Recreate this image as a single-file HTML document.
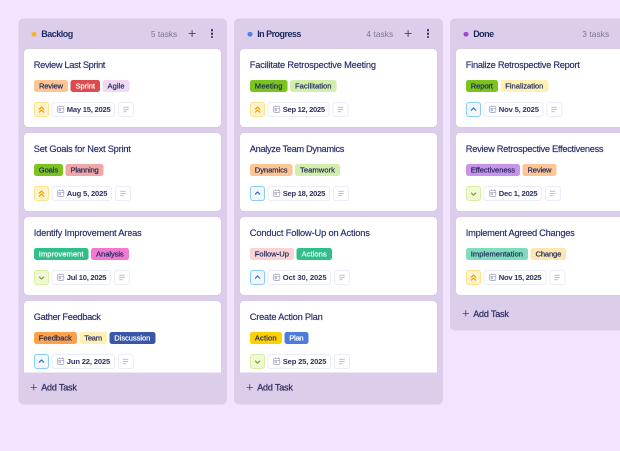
<!DOCTYPE html>
<html><head><meta charset="utf-8"><title>Board</title>
<style>
*{box-sizing:border-box;margin:0;padding:0}
html,body{width:620px;height:451px;overflow:hidden;background:#f2e3fe;font-family:"Liberation Sans",sans-serif;color:#1e2a5e}
.col{position:absolute;top:18.5px;width:208.4px}
.bg{position:absolute;top:0;right:0;bottom:0;background:#dccdeb;border-radius:5px}
.hd{position:absolute;left:0;top:0;height:30px;width:100%}
.dot{position:absolute;left:12.9px;top:13.4px;width:4.8px;height:4.8px;border-radius:50%}
.ttl{position:absolute;left:22.4px;top:10px;font-size:9px;font-weight:bold;line-height:11px;white-space:nowrap}
.cnt{position:absolute;right:50px;top:10.3px;font-size:8.3px;line-height:11px;color:#7b7695;white-space:nowrap}
.plus{position:absolute;left:169.5px;top:11.4px;width:7.2px;height:7.2px}
.plus svg{display:block;width:7.2px;height:7.2px}
.dots{position:absolute;left:192.1px;top:10.7px;width:3px;height:11px}
.dots i{display:block;width:2.3px;height:2.3px;border-radius:50%;background:#2a2d5c;margin-bottom:1.05px}
.list{position:absolute;left:4.2px;top:29.5px;width:199px;padding:1px 0 0 1px;overflow:hidden}
.card{position:relative;width:197.2px;height:78px;background:#fff;border-radius:4px;margin-bottom:6px;box-shadow:0 0 0.7px 0 rgba(120,135,225,0.4)}
.card h3{position:absolute;left:9.8px;top:10.4px;font-size:9.3px;font-weight:normal;line-height:11px;white-space:nowrap;color:#232c66;-webkit-text-stroke:0.15px #232c66}
.tags{position:absolute;left:9.8px;top:30.8px;display:flex;gap:2.5px}
.tag{height:12px;border-radius:2.5px;padding:0;text-align:center;flex:none;overflow:hidden;font-size:7.6px;line-height:12px;white-space:nowrap;-webkit-text-stroke:0.2px}
.meta{position:absolute;left:9.8px;top:52.8px;display:flex;gap:2.6px}
.pr{flex:none;width:15.1px;height:15px;border-radius:3px;border:1px solid;position:relative}
.pr svg{position:absolute;left:0;top:0;width:13px;height:13px}
.p1{background:#fdf5c9;border-color:#fde18d}
.p2{background:#f0f7ff;border-color:#8accf8}
.p3{background:#f2f8d4;border-color:#d6f0a2}
.date{height:15px;border:1px solid #ebecf9;border-radius:3px;background:#fff;font-size:7.6px;line-height:13px;padding:0 0 0 14.3px;flex:none;position:relative;white-space:nowrap;font-weight:bold;color:#2c345f}
.date svg{position:absolute;left:4.6px;top:2.4px;width:7.5px;height:8px}
.ds{flex:none;margin-left:0.3px;width:16px;height:15px;border:1px solid #ebecf9;border-radius:3px;background:#fff;position:relative}
.ds svg{position:absolute;left:3.7px;top:3.5px;width:6px;height:6px}
.add{position:absolute;left:10px;font-size:9px;line-height:11px;white-space:nowrap;color:#2c2f5f;padding-left:12.4px;-webkit-text-stroke:0.22px #2c2f5f}
.add span{position:relative;top:0.5px}
.add svg{position:absolute;left:1.5px;top:2.3px;width:6.6px;height:6.6px}
#w{position:absolute;left:0;top:0;width:1240px;height:902px;transform:scale(0.5);transform-origin:0 0;will-change:transform}
#z{zoom:2;position:absolute;left:0;top:0;width:620px;height:451px}
#clip{position:absolute;left:0;top:0;width:620px;height:451px;overflow:hidden;background:#f2e3fe}
</style></head><body>
<div id="clip"><div id="w"><div id="z">
<div class="col" style="left:18.8px;height:386.2px">
<div class="bg" style="left:-0.4px"></div>
<div class="hd"><span class="dot" style="background:#fbb01f"></span><span class="ttl"><span style="letter-spacing:-0.502px">Backlog</span></span><span class="cnt"><span style="letter-spacing:0.000px">5 tasks</span></span><span class="plus"><svg viewBox="0 0 8 8"><path d="M4 0.2v7.6M0.2 4h7.6" stroke="#2c2f5f" stroke-width="0.9" fill="none"/></svg></span><span class="dots"><i></i><i></i><i></i></span></div>
<div class="list" style="height:324.3px">
<div class="card"><h3><span style="letter-spacing:-0.348px">Review Last Sprint</span></h3><div class="tags"><span class="tag" style="width:34.2px;background:#fdc594;color:#1e2a5e"><span style="letter-spacing:-0.168px">Review</span></span><span class="tag" style="width:29.5px;background:#dd4b4e;color:#fff"><span style="letter-spacing:-0.057px">Sprint</span></span><span class="tag" style="width:27px;background:#f1d9f3;color:#1e2a5e"><span style="letter-spacing:0.022px">Agile</span></span></div><div class="meta"><div class="pr p1"><svg viewBox="0 0 13 13"><path d="M4.3 6.2 L6.5 4 L8.7 6.2 M4.3 9.2 L6.5 7 L8.7 9.2" fill="none" stroke="#f59a0b" stroke-width="1.2" stroke-linecap="round" stroke-linejoin="round"/></svg></div><div class="date" style="width:63.7px"><svg viewBox="0 0 15 16"><rect x="1.3" y="2.8" width="12.4" height="11.8" rx="2" fill="none" stroke="#8689b2" stroke-width="1.1"/><path d="M1.3 6.7h12.4M4.7 0.8v2.8M10.3 0.8v2.8" stroke="#8689b2" stroke-width="1.1" fill="none"/><rect x="3.9" y="8.7" width="3.1" height="3.1" fill="none" stroke="#8689b2" stroke-width="0.9"/></svg><span style="letter-spacing:-0.225px">May 15, 2025</span></div><div class="ds"><svg viewBox="0 0 12 12"><path d="M0.5 1.5h11M0.5 6h11M0.5 10.5h7" stroke="#a3a7cb" stroke-width="1.5" fill="none"/></svg></div></div></div>
<div class="card"><h3><span style="letter-spacing:-0.243px">Set Goals for Next Sprint</span></h3><div class="tags"><span class="tag" style="width:29.25px;background:#7ac41d;color:#1e2a5e"><span style="letter-spacing:-0.119px">Goals</span></span><span class="tag" style="width:38px;background:#f1a7a7;color:#1e2a5e"><span style="letter-spacing:-0.195px">Planning</span></span></div><div class="meta"><div class="pr p1"><svg viewBox="0 0 13 13"><path d="M4.3 6.2 L6.5 4 L8.7 6.2 M4.3 9.2 L6.5 7 L8.7 9.2" fill="none" stroke="#f59a0b" stroke-width="1.2" stroke-linecap="round" stroke-linejoin="round"/></svg></div><div class="date" style="width:60.7px"><svg viewBox="0 0 15 16"><rect x="1.3" y="2.8" width="12.4" height="11.8" rx="2" fill="none" stroke="#8689b2" stroke-width="1.1"/><path d="M1.3 6.7h12.4M4.7 0.8v2.8M10.3 0.8v2.8" stroke="#8689b2" stroke-width="1.1" fill="none"/><rect x="3.9" y="8.7" width="3.1" height="3.1" fill="none" stroke="#8689b2" stroke-width="0.9"/></svg><span style="letter-spacing:-0.156px">Aug 5, 2025</span></div><div class="ds"><svg viewBox="0 0 12 12"><path d="M0.5 1.5h11M0.5 6h11M0.5 10.5h7" stroke="#a3a7cb" stroke-width="1.5" fill="none"/></svg></div></div></div>
<div class="card"><h3><span style="letter-spacing:-0.209px">Identify Improvement Areas</span></h3><div class="tags"><span class="tag" style="width:54.75px;background:#2ebf8b;color:#fff"><span style="letter-spacing:0.038px">Improvement</span></span><span class="tag" style="width:37.75px;background:#f279d2;color:#1e2a5e"><span style="letter-spacing:-0.066px">Analysis</span></span></div><div class="meta"><div class="pr p3"><svg viewBox="0 0 13 13"><path d="M4.4 6 L6.5 8.1 L8.6 6" fill="none" stroke="#64a51a" stroke-width="1.15" stroke-linecap="round" stroke-linejoin="round"/></svg></div><div class="date" style="width:59.7px"><svg viewBox="0 0 15 16"><rect x="1.3" y="2.8" width="12.4" height="11.8" rx="2" fill="none" stroke="#8689b2" stroke-width="1.1"/><path d="M1.3 6.7h12.4M4.7 0.8v2.8M10.3 0.8v2.8" stroke="#8689b2" stroke-width="1.1" fill="none"/><rect x="3.9" y="8.7" width="3.1" height="3.1" fill="none" stroke="#8689b2" stroke-width="0.9"/></svg><span style="letter-spacing:-0.263px">Jul 10, 2025</span></div><div class="ds"><svg viewBox="0 0 12 12"><path d="M0.5 1.5h11M0.5 6h11M0.5 10.5h7" stroke="#a3a7cb" stroke-width="1.5" fill="none"/></svg></div></div></div>
<div class="card"><h3><span style="letter-spacing:-0.340px">Gather Feedback</span></h3><div class="tags"><span class="tag" style="width:43px;background:#fea14a;color:#1e2a5e"><span style="letter-spacing:-0.045px">Feedback</span></span><span class="tag" style="width:27.5px;background:#fff1b5;color:#1e2a5e"><span style="letter-spacing:-0.270px">Team</span></span><span class="tag" style="width:46px;background:#3a56a6;color:#fff"><span style="letter-spacing:-0.072px">Discussion</span></span></div><div class="meta"><div class="pr p2"><svg viewBox="0 0 13 13"><path d="M4.3 7.2 L6.5 5 L8.7 7.2" fill="none" stroke="#3a62cc" stroke-width="1.15" stroke-linecap="round" stroke-linejoin="round"/></svg></div><div class="date" style="width:63.45px"><svg viewBox="0 0 15 16"><rect x="1.3" y="2.8" width="12.4" height="11.8" rx="2" fill="none" stroke="#8689b2" stroke-width="1.1"/><path d="M1.3 6.7h12.4M4.7 0.8v2.8M10.3 0.8v2.8" stroke="#8689b2" stroke-width="1.1" fill="none"/><rect x="3.9" y="8.7" width="3.1" height="3.1" fill="none" stroke="#8689b2" stroke-width="0.9"/></svg><span style="letter-spacing:-0.160px">Jun 22, 2025</span></div><div class="ds"><svg viewBox="0 0 12 12"><path d="M0.5 1.5h11M0.5 6h11M0.5 10.5h7" stroke="#a3a7cb" stroke-width="1.5" fill="none"/></svg></div></div></div>
</div>
<div class="add" style="top:363px"><svg viewBox="0 0 8 8"><path d="M4 0.2v7.6M0.2 4h7.6" stroke="#2c2f5f" stroke-width="0.85" fill="none"/></svg><span style="letter-spacing:-0.170px">Add Task</span></div>
</div>
<div class="col" style="left:234.8px;height:386.2px">
<div class="bg" style="left:-0.9px"></div>
<div class="hd"><span class="dot" style="background:#4382e6"></span><span class="ttl"><span style="letter-spacing:-0.530px">In Progress</span></span><span class="cnt"><span style="letter-spacing:0.072px">4 tasks</span></span><span class="plus"><svg viewBox="0 0 8 8"><path d="M4 0.2v7.6M0.2 4h7.6" stroke="#2c2f5f" stroke-width="0.9" fill="none"/></svg></span><span class="dots"><i></i><i></i><i></i></span></div>
<div class="list" style="height:324.3px">
<div class="card"><h3><span style="letter-spacing:-0.196px">Facilitate Retrospective Meeting</span></h3><div class="tags"><span class="tag" style="width:37.75px;background:#7ac41d;color:#1e2a5e"><span style="letter-spacing:0.103px">Meeting</span></span><span class="tag" style="width:46.5px;background:#d3edab;color:#1e2a5e"><span style="letter-spacing:0.017px">Facilitation</span></span></div><div class="meta"><div class="pr p1"><svg viewBox="0 0 13 13"><path d="M4.3 6.2 L6.5 4 L8.7 6.2 M4.3 9.2 L6.5 7 L8.7 9.2" fill="none" stroke="#f59a0b" stroke-width="1.2" stroke-linecap="round" stroke-linejoin="round"/></svg></div><div class="date" style="width:62.2px"><svg viewBox="0 0 15 16"><rect x="1.3" y="2.8" width="12.4" height="11.8" rx="2" fill="none" stroke="#8689b2" stroke-width="1.1"/><path d="M1.3 6.7h12.4M4.7 0.8v2.8M10.3 0.8v2.8" stroke="#8689b2" stroke-width="1.1" fill="none"/><rect x="3.9" y="8.7" width="3.1" height="3.1" fill="none" stroke="#8689b2" stroke-width="0.9"/></svg><span style="letter-spacing:-0.301px">Sep 12, 2025</span></div><div class="ds"><svg viewBox="0 0 12 12"><path d="M0.5 1.5h11M0.5 6h11M0.5 10.5h7" stroke="#a3a7cb" stroke-width="1.5" fill="none"/></svg></div></div></div>
<div class="card"><h3><span style="letter-spacing:-0.351px">Analyze Team Dynamics</span></h3><div class="tags"><span class="tag" style="width:42.75px;background:#fdc594;color:#1e2a5e"><span style="letter-spacing:-0.074px">Dynamics</span></span><span class="tag" style="width:45px;background:#d3edab;color:#1e2a5e"><span style="letter-spacing:0.049px">Teamwork</span></span></div><div class="meta"><div class="pr p2"><svg viewBox="0 0 13 13"><path d="M4.3 7.2 L6.5 5 L8.7 7.2" fill="none" stroke="#3a62cc" stroke-width="1.15" stroke-linecap="round" stroke-linejoin="round"/></svg></div><div class="date" style="width:62.7px"><svg viewBox="0 0 15 16"><rect x="1.3" y="2.8" width="12.4" height="11.8" rx="2" fill="none" stroke="#8689b2" stroke-width="1.1"/><path d="M1.3 6.7h12.4M4.7 0.8v2.8M10.3 0.8v2.8" stroke="#8689b2" stroke-width="1.1" fill="none"/><rect x="3.9" y="8.7" width="3.1" height="3.1" fill="none" stroke="#8689b2" stroke-width="0.9"/></svg><span style="letter-spacing:-0.280px">Sep 18, 2025</span></div><div class="ds"><svg viewBox="0 0 12 12"><path d="M0.5 1.5h11M0.5 6h11M0.5 10.5h7" stroke="#a3a7cb" stroke-width="1.5" fill="none"/></svg></div></div></div>
<div class="card"><h3><span style="letter-spacing:-0.162px">Conduct Follow-Up on Actions</span></h3><div class="tags"><span class="tag" style="width:44.25px;background:#f9d4d4;color:#1e2a5e"><span style="letter-spacing:0.007px">Follow-Up</span></span><span class="tag" style="width:35.25px;background:#2ebf8b;color:#fff"><span style="letter-spacing:0.049px">Actions</span></span></div><div class="meta"><div class="pr p2"><svg viewBox="0 0 13 13"><path d="M4.3 7.2 L6.5 5 L8.7 7.2" fill="none" stroke="#3a62cc" stroke-width="1.15" stroke-linecap="round" stroke-linejoin="round"/></svg></div><div class="date" style="width:63.7px"><svg viewBox="0 0 15 16"><rect x="1.3" y="2.8" width="12.4" height="11.8" rx="2" fill="none" stroke="#8689b2" stroke-width="1.1"/><path d="M1.3 6.7h12.4M4.7 0.8v2.8M10.3 0.8v2.8" stroke="#8689b2" stroke-width="1.1" fill="none"/><rect x="3.9" y="8.7" width="3.1" height="3.1" fill="none" stroke="#8689b2" stroke-width="0.9"/></svg><span style="letter-spacing:-0.048px">Oct 30, 2025</span></div><div class="ds"><svg viewBox="0 0 12 12"><path d="M0.5 1.5h11M0.5 6h11M0.5 10.5h7" stroke="#a3a7cb" stroke-width="1.5" fill="none"/></svg></div></div></div>
<div class="card"><h3><span style="letter-spacing:-0.237px">Create Action Plan</span></h3><div class="tags"><span class="tag" style="width:32px;background:#ffd000;color:#1e2a5e"><span style="letter-spacing:0.148px">Action</span></span><span class="tag" style="width:24px;background:#4c7cd9;color:#fff"><span style="letter-spacing:-0.301px">Plan</span></span></div><div class="meta"><div class="pr p3"><svg viewBox="0 0 13 13"><path d="M4.4 6 L6.5 8.1 L8.6 6" fill="none" stroke="#64a51a" stroke-width="1.15" stroke-linecap="round" stroke-linejoin="round"/></svg></div><div class="date" style="width:63.7px"><svg viewBox="0 0 15 16"><rect x="1.3" y="2.8" width="12.4" height="11.8" rx="2" fill="none" stroke="#8689b2" stroke-width="1.1"/><path d="M1.3 6.7h12.4M4.7 0.8v2.8M10.3 0.8v2.8" stroke="#8689b2" stroke-width="1.1" fill="none"/><rect x="3.9" y="8.7" width="3.1" height="3.1" fill="none" stroke="#8689b2" stroke-width="0.9"/></svg><span style="letter-spacing:-0.176px">Sep 25, 2025</span></div><div class="ds"><svg viewBox="0 0 12 12"><path d="M0.5 1.5h11M0.5 6h11M0.5 10.5h7" stroke="#a3a7cb" stroke-width="1.5" fill="none"/></svg></div></div></div>
</div>
<div class="add" style="top:363px"><svg viewBox="0 0 8 8"><path d="M4 0.2v7.6M0.2 4h7.6" stroke="#2c2f5f" stroke-width="0.85" fill="none"/></svg><span style="letter-spacing:-0.170px">Add Task</span></div>
</div>
<div class="col" style="left:450.8px;height:312px">
<div class="bg" style="left:-0.9px"></div>
<div class="hd"><span class="dot" style="background:#a044d8"></span><span class="ttl"><span style="letter-spacing:-0.525px">Done</span></span><span class="cnt"><span style="letter-spacing:0.100px">3 tasks</span></span><span class="plus"><svg viewBox="0 0 8 8"><path d="M4 0.2v7.6M0.2 4h7.6" stroke="#2c2f5f" stroke-width="0.9" fill="none"/></svg></span><span class="dots"><i></i><i></i><i></i></span></div>
<div class="list" style="height:253px">
<div class="card"><h3><span style="letter-spacing:-0.283px">Finalize Retrospective Report</span></h3><div class="tags"><span class="tag" style="width:32px;background:#7ac41d;color:#1e2a5e"><span style="letter-spacing:-0.133px">Report</span></span><span class="tag" style="width:48.1px;background:#fff1b5;color:#1e2a5e"><span style="letter-spacing:-0.027px">Finalization</span></span></div><div class="meta"><div class="pr p2"><svg viewBox="0 0 13 13"><path d="M4.3 7.2 L6.5 5 L8.7 7.2" fill="none" stroke="#3a62cc" stroke-width="1.15" stroke-linecap="round" stroke-linejoin="round"/></svg></div><div class="date" style="width:59.95px"><svg viewBox="0 0 15 16"><rect x="1.3" y="2.8" width="12.4" height="11.8" rx="2" fill="none" stroke="#8689b2" stroke-width="1.1"/><path d="M1.3 6.7h12.4M4.7 0.8v2.8M10.3 0.8v2.8" stroke="#8689b2" stroke-width="1.1" fill="none"/><rect x="3.9" y="8.7" width="3.1" height="3.1" fill="none" stroke="#8689b2" stroke-width="0.9"/></svg><span style="letter-spacing:-0.163px">Nov 5, 2025</span></div><div class="ds"><svg viewBox="0 0 12 12"><path d="M0.5 1.5h11M0.5 6h11M0.5 10.5h7" stroke="#a3a7cb" stroke-width="1.5" fill="none"/></svg></div></div></div>
<div class="card"><h3><span style="letter-spacing:-0.298px">Review Retrospective Effectiveness</span></h3><div class="tags"><span class="tag" style="width:54.2px;background:#c893e9;color:#1e2a5e"><span style="letter-spacing:-0.064px">Effectiveness</span></span><span class="tag" style="width:33.9px;background:#fdc594;color:#1e2a5e"><span style="letter-spacing:-0.168px">Review</span></span></div><div class="meta"><div class="pr p3"><svg viewBox="0 0 13 13"><path d="M4.4 6 L6.5 8.1 L8.6 6" fill="none" stroke="#64a51a" stroke-width="1.15" stroke-linecap="round" stroke-linejoin="round"/></svg></div><div class="date" style="width:58.6px"><svg viewBox="0 0 15 16"><rect x="1.3" y="2.8" width="12.4" height="11.8" rx="2" fill="none" stroke="#8689b2" stroke-width="1.1"/><path d="M1.3 6.7h12.4M4.7 0.8v2.8M10.3 0.8v2.8" stroke="#8689b2" stroke-width="1.1" fill="none"/><rect x="3.9" y="8.7" width="3.1" height="3.1" fill="none" stroke="#8689b2" stroke-width="0.9"/></svg><span style="letter-spacing:-0.254px">Dec 1, 2025</span></div><div class="ds"><svg viewBox="0 0 12 12"><path d="M0.5 1.5h11M0.5 6h11M0.5 10.5h7" stroke="#a3a7cb" stroke-width="1.5" fill="none"/></svg></div></div></div>
<div class="card"><h3><span style="letter-spacing:-0.273px">Implement Agreed Changes</span></h3><div class="tags"><span class="tag" style="width:62.2px;background:#80dcbc;color:#1e2a5e"><span style="letter-spacing:0.020px">Implementation</span></span><span class="tag" style="width:35.7px;background:#fde6b2;color:#1e2a5e"><span style="letter-spacing:-0.152px">Change</span></span></div><div class="meta"><div class="pr p1"><svg viewBox="0 0 13 13"><path d="M4.3 6.2 L6.5 4 L8.7 6.2 M4.3 9.2 L6.5 7 L8.7 9.2" fill="none" stroke="#f59a0b" stroke-width="1.2" stroke-linecap="round" stroke-linejoin="round"/></svg></div><div class="date" style="width:63.1px"><svg viewBox="0 0 15 16"><rect x="1.3" y="2.8" width="12.4" height="11.8" rx="2" fill="none" stroke="#8689b2" stroke-width="1.1"/><path d="M1.3 6.7h12.4M4.7 0.8v2.8M10.3 0.8v2.8" stroke="#8689b2" stroke-width="1.1" fill="none"/><rect x="3.9" y="8.7" width="3.1" height="3.1" fill="none" stroke="#8689b2" stroke-width="0.9"/></svg><span style="letter-spacing:-0.285px">Nov 15, 2025</span></div><div class="ds"><svg viewBox="0 0 12 12"><path d="M0.5 1.5h11M0.5 6h11M0.5 10.5h7" stroke="#a3a7cb" stroke-width="1.5" fill="none"/></svg></div></div></div>
</div>
<div class="add" style="top:289.3px"><svg viewBox="0 0 8 8"><path d="M4 0.2v7.6M0.2 4h7.6" stroke="#2c2f5f" stroke-width="0.85" fill="none"/></svg><span style="letter-spacing:-0.170px">Add Task</span></div>
</div>
</div></div></div>
</body></html>
